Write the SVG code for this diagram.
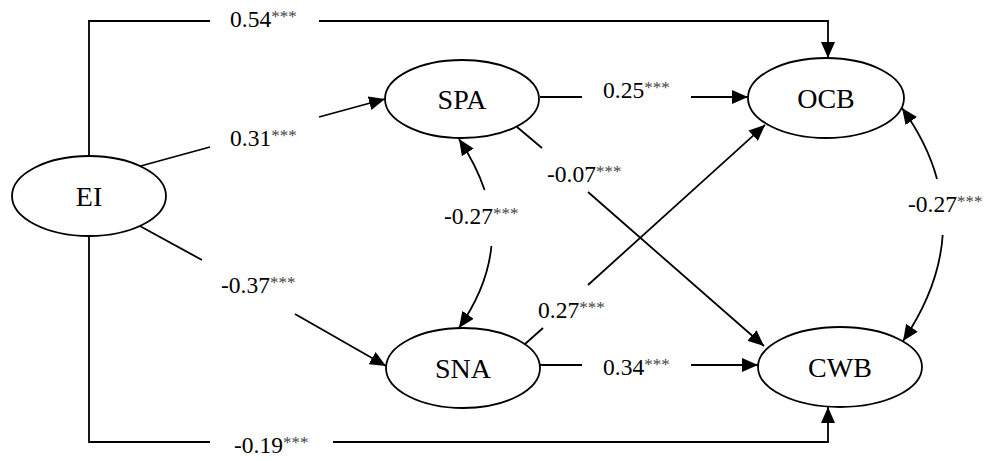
<svg xmlns="http://www.w3.org/2000/svg" width="985" height="461" viewBox="0 0 985 461">
<style>
.node ellipse{fill:#fff;stroke:#000;stroke-width:1.8}
.node text{font-family:"Liberation Serif","Times New Roman",serif;font-size:28px;fill:#000;text-anchor:middle}
.edges path{fill:none;stroke:#000;stroke-width:1.8}
.lbl{font-family:"Liberation Serif","Times New Roman",serif;font-size:23.5px;fill:#000}
.lbl tspan{font-size:17px;fill:#444}
</style>
<defs>
<marker id="ah" markerUnits="userSpaceOnUse" markerWidth="16" markerHeight="14" refX="16" refY="7" orient="auto">
<path d="M0,0 L16,7 L0,14 Z" fill="#000"/>
</marker>
</defs>
<rect width="985" height="461" fill="#fff"/>
<g class="edges">
<path d="M89,156 V21 H210"/>
<path d="M319,21 H828 V58" marker-end="url(#ah)"/>
<path d="M89,236 V442 H210"/>
<path d="M333,442 H828 V407" marker-end="url(#ah)"/>
<path d="M137,167 L210,147"/>
<path d="M319,117 L385,99" marker-end="url(#ah)"/>
<path d="M138,225 L202,260"/>
<path d="M295,314 L386,366" marker-end="url(#ah)"/>
<path d="M540,97 H582"/>
<path d="M691,97 H748" marker-end="url(#ah)"/>
<path d="M540,365 H582"/>
<path d="M691,365 H758" marker-end="url(#ah)"/>
<path d="M517,127 L542,148"/>
<path d="M588,192 L764,346" marker-end="url(#ah)"/>
<path d="M525,344 L543,328"/>
<path d="M588,285 L765,125" marker-end="url(#ah)"/>
<path d="M484.6,190 Q476.4,165.5 459,139" marker-end="url(#ah)"/>
<path d="M491.4,246 Q487.7,286.5 459,328" marker-end="url(#ah)"/>
<path d="M937,179 Q927.5,143.5 902,108" marker-end="url(#ah)"/>
<path d="M942.7,235 Q939.2,287.5 903,341" marker-end="url(#ah)"/>
</g>
<g class="labels">
<text class="lbl" x="230" y="27">0.54<tspan dy="-5">***</tspan></text>
<text class="lbl" x="230" y="146">0.31<tspan dy="-5">***</tspan></text>
<text class="lbl" x="221" y="293">-0.37<tspan dy="-5">***</tspan></text>
<text class="lbl" x="234" y="453">-0.19<tspan dy="-5">***</tspan></text>
<text class="lbl" x="603" y="98">0.25<tspan dy="-5">***</tspan></text>
<text class="lbl" x="603" y="375">0.34<tspan dy="-5">***</tspan></text>
<text class="lbl" x="547" y="182">-0.07<tspan dy="-5">***</tspan></text>
<text class="lbl" x="538" y="318">0.27<tspan dy="-5">***</tspan></text>
<text class="lbl" x="444" y="224">-0.27<tspan dy="-5">***</tspan></text>
<text class="lbl" x="908" y="212">-0.27<tspan dy="-5">***</tspan></text>
</g>
<g id="EI" class="node"><ellipse cx="89" cy="196" rx="77" ry="40"/><text x="89" y="206">EI</text></g>
<g id="SPA" class="node"><ellipse cx="462" cy="99" rx="77" ry="39"/><text x="462" y="109">SPA</text></g>
<g id="SNA" class="node"><ellipse cx="463" cy="368" rx="77" ry="40"/><text x="463" y="378">SNA</text></g>
<g id="OCB" class="node"><ellipse cx="826" cy="98" rx="78" ry="40"/><text x="826" y="108">OCB</text></g>
<g id="CWB" class="node"><ellipse cx="840" cy="367" rx="82" ry="40"/><text x="840" y="377">CWB</text></g>
</svg>
